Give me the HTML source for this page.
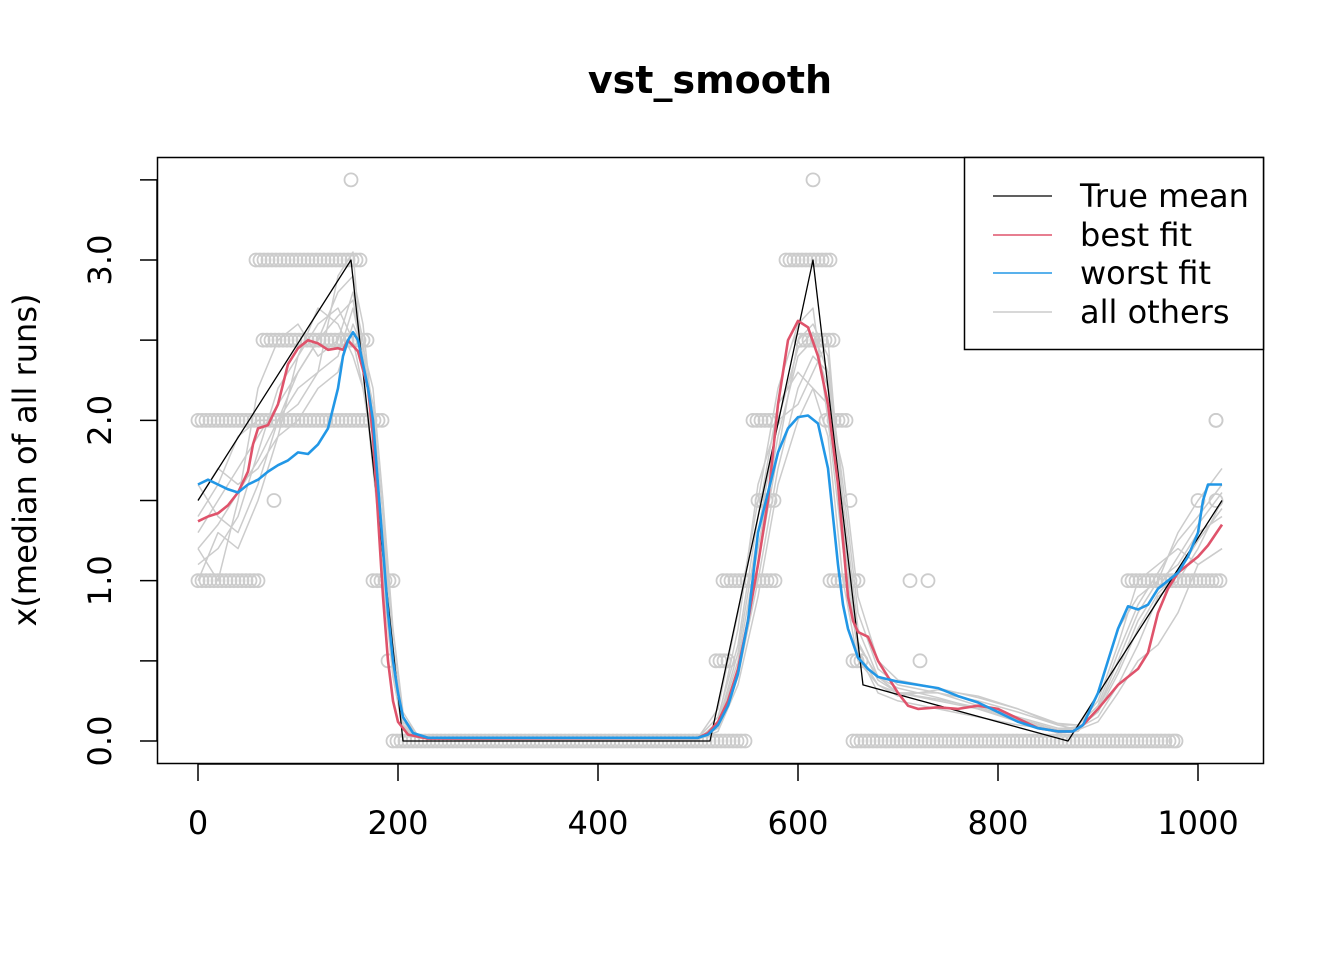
<!DOCTYPE html>
<html><head><meta charset="utf-8"><style>
html,body{margin:0;padding:0;background:#fff;}
svg text{font-family:"DejaVu Sans","Liberation Sans",sans-serif;}
</style></head><body>
<svg id="chart" width="1344" height="960" xmlns="http://www.w3.org/2000/svg">
<text x="710" y="93" font-size="38" font-weight="bold" text-anchor="middle">vst_smooth</text>
<g id="pts"></g>
<g id="grey"></g>
<g id="main"></g>
<rect x="157.5" y="157.5" width="1106" height="606" fill="none" stroke="#000" stroke-width="1.5"/>
<g id="axes"></g>
<text transform="translate(36,460) rotate(-90)" font-size="32" text-anchor="middle">x(median of all runs)</text>
<g>
<rect x="964.5" y="157.5" width="299" height="192" fill="#fff" stroke="#000" stroke-width="1.5"/>
<g><line x1="993" x2="1052" y1="196" y2="196" stroke="#000" stroke-width="1.3"/><text x="1080" y="207" font-size="32">True mean</text></g>
<g><line x1="993" x2="1052" y1="235" y2="235" stroke="#DF536B" stroke-width="1.5"/><text x="1080" y="246" font-size="32">best fit</text></g>
<g><line x1="993" x2="1052" y1="273" y2="273" stroke="#2297E6" stroke-width="1.5"/><text x="1080" y="284" font-size="32">worst fit</text></g>
<g><line x1="993" x2="1052" y1="312" y2="312" stroke="#cccccc" stroke-width="1.5"/><text x="1080" y="323" font-size="32">all others</text></g>
</g>
</svg>
<script>
const xTicks=[0,200,400,600,800,1000];
const yTicks=[0,0.5,1,1.5,2,2.5,3,3.5];
const yLabels=["0.0","","1.0","","2.0","","3.0",""];
const trueX=[0,153,205,512,615,665,870,1024];
const trueY=[1.5,3,0,0,3,0.35,0,1.5];
const bestX=[0,10,20,30,40,50,55,60,70,80,90,100,110,120,130,140,145,150,160,170,175,180,185,190,195,200,210,230,500,510,520,530,540,550,560,570,580,590,600,610,620,630,640,645,650,655,660,670,680,690,700,710,720,740,760,780,800,820,840,860,875,885,900,920,940,950,960,970,980,1000,1010,1024];
const bestY=[1.37,1.4,1.42,1.47,1.55,1.68,1.85,1.95,1.97,2.1,2.35,2.45,2.5,2.48,2.44,2.45,2.44,2.5,2.43,2.2,1.9,1.4,0.9,0.5,0.25,0.12,0.04,0.015,0.02,0.05,0.12,0.25,0.45,0.75,1.1,1.5,2.1,2.5,2.62,2.58,2.4,2.1,1.6,1.25,0.9,0.75,0.68,0.65,0.5,0.4,0.3,0.22,0.2,0.21,0.2,0.22,0.2,0.14,0.08,0.06,0.06,0.1,0.2,0.35,0.45,0.55,0.8,0.95,1.05,1.15,1.22,1.35];
const worstX=[0,10,20,30,40,50,60,70,80,90,100,110,120,130,140,145,150,155,160,165,170,175,180,185,190,195,200,205,215,230,500,510,520,530,540,550,560,570,580,590,600,610,620,630,640,645,650,660,670,680,700,720,740,760,780,800,820,840,860,875,885,900,910,920,930,940,950,960,970,980,990,1000,1005,1010,1024];
const worstY=[1.6,1.63,1.6,1.57,1.55,1.6,1.63,1.68,1.72,1.75,1.8,1.79,1.85,1.95,2.2,2.4,2.5,2.55,2.5,2.35,2.2,2.0,1.6,1.2,0.8,0.5,0.3,0.15,0.05,0.02,0.02,0.04,0.1,0.22,0.42,0.75,1.3,1.55,1.8,1.95,2.02,2.03,1.98,1.7,1.1,0.85,0.7,0.52,0.45,0.4,0.37,0.35,0.33,0.28,0.24,0.18,0.12,0.08,0.06,0.06,0.1,0.3,0.5,0.7,0.84,0.82,0.85,0.95,1.0,1.05,1.15,1.3,1.5,1.6,1.6];
const greyX=[0,20,40,60,80,100,120,140,155,165,175,185,195,205,220,260,500,520,540,560,580,600,615,630,645,660,680,700,740,780,820,860,880,900,920,940,960,980,1000,1024];
const grey1=[1.3,1.5,1.7,1.9,2.1,2.3,2.5,2.8,2.9,2.6,2.0,1.2,0.5,0.1,0.02,0.01,0.01,0.1,0.5,1.2,1.9,2.4,2.5,2.2,1.3,0.6,0.4,0.3,0.25,0.2,0.12,0.05,0.06,0.2,0.5,0.8,1.0,1.1,1.3,1.4];
const grey2=[1.1,1.2,1.4,1.8,2.2,2.4,2.7,2.6,2.4,2.2,1.8,1.0,0.4,0.08,0.02,0.01,0.02,0.15,0.6,1.4,2.1,2.3,2.2,1.9,1.0,0.5,0.35,0.3,0.3,0.22,0.15,0.08,0.08,0.15,0.35,0.6,0.9,1.0,1.2,1.5];
const grey3=[1.6,1.4,1.3,1.6,2.0,2.2,2.3,2.4,2.7,2.4,2.1,1.4,0.6,0.15,0.03,0.01,0.01,0.08,0.4,1.0,1.7,2.2,2.4,2.3,1.6,0.8,0.45,0.35,0.3,0.25,0.18,0.1,0.1,0.25,0.6,1.0,1.1,1.2,1.1,1.2];
const grey4=[1.2,1.0,1.5,2.2,2.5,2.6,2.4,2.5,2.8,2.5,1.9,1.1,0.5,0.1,0.02,0.01,0.01,0.12,0.7,1.6,2.0,2.1,2.3,2.5,1.4,0.55,0.3,0.25,0.2,0.15,0.1,0.07,0.09,0.3,0.7,0.9,1.0,1.3,1.5,1.7];
const grey5=[1.4,1.6,1.9,2.0,2.0,2.1,2.3,2.9,3.05,2.3,1.7,1.1,0.4,0.07,0.02,0.01,0.02,0.2,0.8,1.5,2.2,2.6,2.7,2.0,1.2,0.55,0.35,0.28,0.32,0.28,0.2,0.1,0.07,0.12,0.3,0.5,0.6,0.8,1.1,1.2];
const grey6=[1.0,1.3,1.2,1.5,1.9,2.4,2.6,2.7,2.5,2.2,1.9,1.3,0.6,0.12,0.02,0.01,0.01,0.1,0.45,1.1,1.8,2.5,2.6,2.4,1.5,0.7,0.4,0.33,0.27,0.2,0.13,0.06,0.08,0.2,0.45,0.75,0.95,1.15,1.35,1.55];
const grey7=[1.5,1.7,1.6,1.7,1.9,2.0,2.2,2.3,2.6,2.45,2.2,1.5,0.7,0.18,0.03,0.01,0.01,0.06,0.35,0.9,1.6,2.0,2.2,2.1,1.7,0.9,0.5,0.38,0.33,0.27,0.2,0.11,0.1,0.22,0.55,0.85,1.05,1.25,1.4,1.6];
const grey8=[1.2,1.35,1.55,1.75,2.0,2.3,2.5,2.65,2.75,2.4,1.95,1.15,0.45,0.09,0.02,0.01,0.01,0.11,0.55,1.3,2.0,2.45,2.55,2.3,1.35,0.62,0.38,0.3,0.26,0.21,0.14,0.07,0.08,0.18,0.42,0.7,0.92,1.05,1.25,1.45];
// point chains: [level, xStart, xEnd]
const pointLevels=[3.5,3.5,3,3,2.5,2.5,2,2,2,2,1.5,1.5,1.5,1.5,1,1,1,1,1,1,1,0.5,0.5,0.5,0.5,0,0,0,1.5,2];
const pointStart=[153,615,58,588,65,603,0,555,628,1018,76,560,652,1000,0,175,525,632,712,730,930,190,518,655,722,195,655,978,1018,1018];
const pointEnd=[153,615,165,632,170,635,185,575,650,1018,76,578,652,1000,60,197,578,662,712,730,1024,190,532,665,722,547,975,978,1018,1018];
const NS='http://www.w3.org/2000/svg';
const X=v=>198+v*1.0;
const Y=v=>741-v*160.33;
const axes=document.getElementById('axes');
function mk(tag,attrs,parent){const e=document.createElementNS(NS,tag);for(const k in attrs)e.setAttribute(k,attrs[k]);parent.appendChild(e);return e;}
xTicks.forEach(t=>{
  const l=mk('line',{x1:X(t),x2:X(t),y1:764,y2:781,stroke:'#000','stroke-width':1.5},axes);
  
  
  const tx=mk('text',{x:X(t),y:834,'font-size':32,'text-anchor':'middle'},axes);tx.textContent=t;
  
  
});
mk('line',{x1:X(0),x2:X(1000),y1:764,y2:764,stroke:'#000','stroke-width':1.5},axes);
yTicks.forEach((t,i)=>{
  const l=mk('line',{x1:140,x2:157,y1:Y(t),y2:Y(t),stroke:'#000','stroke-width':1.5},axes);
  
  
  if(yLabels[i]){const tx=mk('text',{'font-size':32,'text-anchor':'middle',transform:`translate(111,${Y(t)}) rotate(-90)`},axes);tx.textContent=yLabels[i];
  
  }
});
mk('line',{x1:157,x2:157,y1:Y(0),y2:Y(3.5),stroke:'#000','stroke-width':1.5},axes);
const pts=document.getElementById('pts');
pointLevels.forEach((lv,i)=>{
  for(let x=pointStart[i];x<=pointEnd[i];x+=4){
    const c=mk('circle',{cx:X(x),cy:Y(lv),r:6.5,fill:'none',stroke:'#cccccc','stroke-width':1.8},pts);
    
    
  }
});
function line(xs,ys,col,w,parent,name){
  const d=xs.map((x,i)=>(i?'L':'M')+X(x).toFixed(1)+','+Y(ys[i]).toFixed(1)).join('');
  const p=mk('path',{d:d,fill:'none',stroke:col,'stroke-width':w,'stroke-linejoin':'round'},parent);
  
  
}
const grey=document.getElementById('grey');
[grey1,grey2,grey3,grey4,grey5,grey6,grey7,grey8].forEach(g=>line(greyX,g,'#cccccc',1.5,grey,'other-run-line'));
const main=document.getElementById('main');
line(trueX,trueY,'#000',1.3,main,'true-mean-line');
line(bestX,bestY,'#DF536B',2.6,main,'best-fit-line');
line(worstX,worstY,'#2297E6',2.6,main,'worst-fit-line');
</script>
</body></html>
